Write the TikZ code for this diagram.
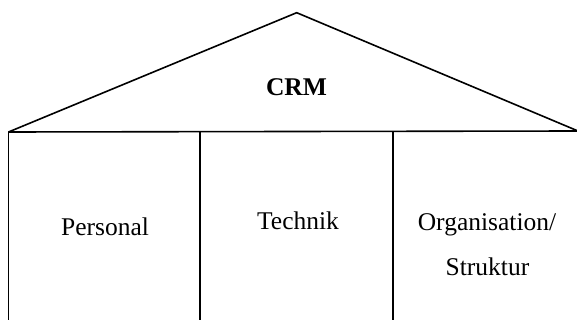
\documentclass[tikz,border=0pt]{standalone}
\usepackage{fontspec}
\setmainfont{Liberation Serif}
\begin{document}
\begin{tikzpicture}[x=1pt,y=-1pt,
  wall/.style={line width=1.6pt, line join=miter},
  pillar/.style={font=\fontsize{25.5}{30}\selectfont, inner sep=0pt, anchor=base},
  roofname/.style={pillar, font=\fontsize{25.5}{30}\selectfont\bfseries}]
\useasboundingbox (0,0) rectangle (577,320);
% roof corners and pillar feet
\coordinate (eaveL) at (8.5,132);
\coordinate (apex) at (296.7,12.7);
\coordinate (eaveR) at (578,131);
\coordinate (p1top) at (8.5,132);
\coordinate (p1foot) at (8.5,322);
\coordinate (p2top) at (200,132);
\coordinate (p2foot) at (200,322);
\coordinate (p3top) at (392.7,132);
\coordinate (p3foot) at (392.7,322);
% roof and beam
\draw[wall] (eaveL) -- (apex) -- (eaveR);
\draw[wall] (eaveL) -- (eaveR);
% pillar walls
\draw[wall] (p1top) -- (p1foot);
\draw[wall] (p2top) -- (p2foot);
\draw[wall] (p3top) -- (p3foot);
% labels
\node[roofname] (crm) at (296.5,96) {CRM};
\node[pillar] (personal) at (105,235) {Personal};
\node[pillar] (technik) at (298,229) {Technik};
\node[pillar] (org) at (487,230) {Organisation/};
\node[pillar] (struktur) at (487.5,275) {Struktur};
\end{tikzpicture}
\end{document}
